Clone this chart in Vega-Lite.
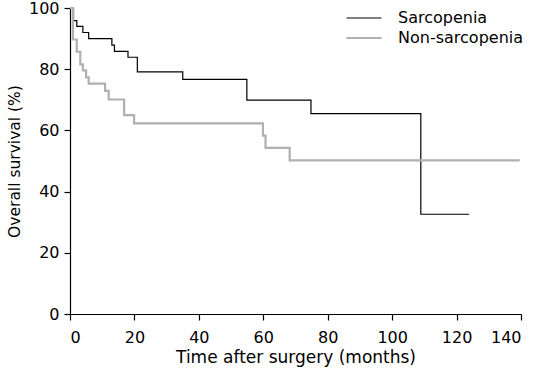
{
  "$schema": "https://vega.github.io/schema/vega-lite/v6.json",
  "width": 451,
  "height": 306,
  "autosize": {"type": "none"},
  "padding": {"left": 70, "top": 8, "right": 16, "bottom": 60},
  "background": "white",
  "config": {
    "view": {"stroke": null},
    "font": "DejaVu Sans",
    "axis": {
      "domainColor": "black",
      "tickColor": "black",
      "labelColor": "black",
      "titleColor": "black",
      "labelFont": "DejaVu Sans",
      "titleFont": "DejaVu Sans",
      "labelFontSize": 16,
      "titleFontWeight": "normal",
      "grid": false,
      "tickSize": 6,
      "domainWidth": 1.2,
      "tickWidth": 1.2
    }
  },
  "data": {
    "values": [
      {"group": "Sarcopenia", "time": 0, "survival": 100},
      {"group": "Sarcopenia", "time": 1.1, "survival": 95.9},
      {"group": "Sarcopenia", "time": 2.1, "survival": 94.0},
      {"group": "Sarcopenia", "time": 4.0, "survival": 92.0},
      {"group": "Sarcopenia", "time": 5.8, "survival": 90.0},
      {"group": "Sarcopenia", "time": 13.0, "survival": 87.9},
      {"group": "Sarcopenia", "time": 13.8, "survival": 85.8},
      {"group": "Sarcopenia", "time": 18.0, "survival": 83.9},
      {"group": "Sarcopenia", "time": 20.9, "survival": 79.1},
      {"group": "Sarcopenia", "time": 35.0, "survival": 76.7},
      {"group": "Sarcopenia", "time": 54.9, "survival": 69.9},
      {"group": "Sarcopenia", "time": 74.8, "survival": 65.5},
      {"group": "Sarcopenia", "time": 108.9, "survival": 32.6},
      {"group": "Sarcopenia", "time": 123.9, "survival": 32.6},
      {"group": "Non-sarcopenia", "time": 0, "survival": 100},
      {"group": "Non-sarcopenia", "time": 0.9, "survival": 89.7},
      {"group": "Non-sarcopenia", "time": 2.1, "survival": 85.7},
      {"group": "Non-sarcopenia", "time": 3.2, "survival": 81.6},
      {"group": "Non-sarcopenia", "time": 4.0, "survival": 79.6},
      {"group": "Non-sarcopenia", "time": 5.0, "survival": 77.3},
      {"group": "Non-sarcopenia", "time": 5.8, "survival": 75.3},
      {"group": "Non-sarcopenia", "time": 10.9, "survival": 72.9},
      {"group": "Non-sarcopenia", "time": 12.0, "survival": 70.1},
      {"group": "Non-sarcopenia", "time": 16.8, "survival": 65.0},
      {"group": "Non-sarcopenia", "time": 19.9, "survival": 62.3},
      {"group": "Non-sarcopenia", "time": 59.9, "survival": 58.3},
      {"group": "Non-sarcopenia", "time": 60.7, "survival": 54.3},
      {"group": "Non-sarcopenia", "time": 68.2, "survival": 50.2},
      {"group": "Non-sarcopenia", "time": 139.6, "survival": 50.2}
    ]
  },
  "mark": {"type": "line", "interpolate": "step-after"},
  "encoding": {
    "x": {
      "field": "time",
      "type": "quantitative",
      "scale": {"domain": [0, 140], "nice": false, "zero": true},
      "axis": {"values": [0, 20, 40, 60, 80, 100, 120, 140], "title": "Time after surgery (months)", "titleFontSize": 17, "titlePadding": 4, "labelPadding": 9}
    },
    "y": {
      "field": "survival",
      "type": "quantitative",
      "scale": {"domain": [0, 100], "nice": false},
      "axis": {"values": [0, 20, 40, 60, 80, 100], "title": "Overall survival (%)", "titleFontSize": 15.5, "titlePadding": 6, "labelPadding": 5}
    },
    "color": {
      "field": "group",
      "type": "nominal",
      "scale": {"domain": ["Sarcopenia", "Non-sarcopenia"], "range": ["#000000", "#b0b0b0"]},
      "legend": {
        "title": null,
        "orient": "none",
        "legendX": 286,
        "legendY": 2,
        "symbolType": "M-3.5,0L3.5,0",
        "symbolSize": 100,
        "labelFontSize": 16,
        "labelFont": "DejaVu Sans",
        "labelColor": "black",
        "rowPadding": 4,
        "labelOffset": 26
      }
    },
    "strokeWidth": {
      "field": "group",
      "type": "nominal",
      "scale": {"domain": ["Sarcopenia", "Non-sarcopenia"], "range": [1.2, 2.2]},
      "legend": {
        "title": null,
        "orient": "none",
        "legendX": 286,
        "legendY": 2,
        "symbolType": "M-3.5,0L3.5,0",
        "symbolSize": 100,
        "labelFontSize": 16,
        "labelFont": "DejaVu Sans",
        "labelColor": "black",
        "rowPadding": 4,
        "labelOffset": 26
      }
    }
  }
}
